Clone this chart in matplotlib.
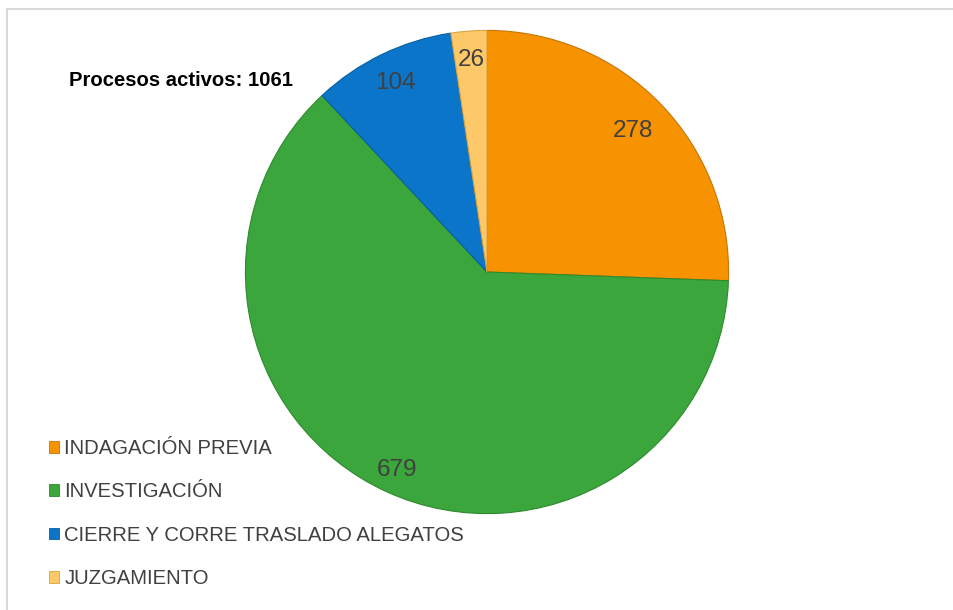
import numpy as np
import matplotlib
matplotlib.use("Agg")
import matplotlib.pyplot as plt
from matplotlib.lines import Line2D
from matplotlib.patches import Patch

plt.rcParams['font.family'] = ['Liberation Sans', 'DejaVu Sans']

categories = ["INDAGACIÓN PREVIA", "INVESTIGACIÓN",
              "CIERRE Y CORRE TRASLADO ALEGATOS", "JUZGAMIENTO"]
values = [278, 679, 104, 26]
colors = ["#F79200", "#3BA63B", "#0B76C9", "#FDC867"]
edges = ["#C97400", "#2E8A2E", "#075FA3", "#D9A445"]
title = "Procesos activos: 1061"

W, H = 954, 610
fig = plt.figure(figsize=(W / 100, H / 100), dpi=100)

# pie axes placed by pixel geometry
cx, cy, r = 487, 272, 244
ax = fig.add_axes([(cx - r) / W, (H - cy - r) / H, 2 * r / W, 2 * r / H])
ax.set_aspect("equal")

total = sum(values)
wedges, texts, autotexts = ax.pie(
    values, colors=colors, startangle=90, counterclock=False,
    autopct=lambda p: f"{round(p * total / 100)}", pctdistance=0.87,
    wedgeprops=dict(linewidth=0.8),
    textprops=dict(fontsize=17.5, color="#404040"))
for w, e in zip(wedges, edges):
    w.set_edgecolor(e)

# value labels sit at slightly different radii inside each wedge
label_radius = [0.84, 0.90, 0.87, 0.88]
for w, t, rr in zip(wedges, autotexts, label_radius):
    mid = np.deg2rad((w.theta1 + w.theta2) / 2)
    t.set_position((rr * np.cos(mid), rr * np.sin(mid)))

ax.set_xlim(-1.01, 1.01)
ax.set_ylim(-1.01, 1.01)
ax.axis("off")

fig.text(69 / W, 1 - 81 / H, title, fontsize=14.6, fontweight="bold",
         color="black", ha="left", va="center")

handles = [Patch(facecolor=c, edgecolor=e, linewidth=0.6) for c, e in zip(colors, edges)]
fig.legend(handles, categories, loc="upper left",
           bbox_to_anchor=(41 / W, 1 - 431 / H), frameon=False,
           fontsize=14.6, labelcolor="#404040", handlelength=0.5,
           handleheight=0.5, handletextpad=0.25, labelspacing=1.2,
           borderaxespad=0)

# light frame lines along top and left
fig.add_artist(Line2D([7 / W, 1], [1 - 8.5 / H] * 2, color="#D9D9D9", lw=1.5,
                      transform=fig.transFigure))
fig.add_artist(Line2D([7.5 / W] * 2, [0, 1 - 8.5 / H], color="#D9D9D9", lw=1.5,
                      transform=fig.transFigure))

fig.savefig("out.png", dpi=100, facecolor="white")
